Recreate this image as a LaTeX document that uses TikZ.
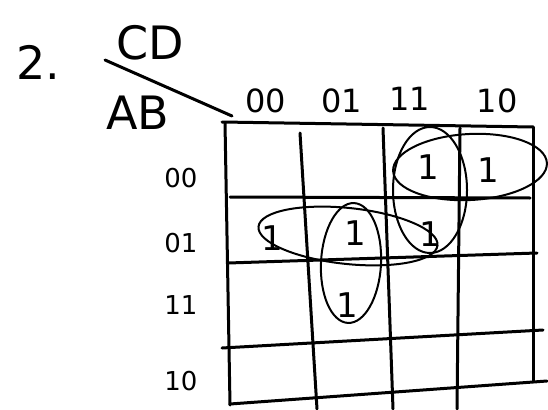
\documentclass[tikz,border=0pt]{standalone}
\usepackage{fontspec}
\setmainfont{DejaVu Sans}
\begin{document}
\begin{tikzpicture}[x=1pt,y=-1pt,
  ink/.style={line width=3pt,line cap=round,line join=round},
  loop/.style={line width=2pt},
  big/.style={font=\fontsize{46}{46}\selectfont,inner sep=0pt},
  lab/.style={font=\fontsize{32}{32}\selectfont,inner sep=0pt},
  rlab/.style={font=\fontsize{26}{26}\selectfont,inner sep=0pt},
  one/.style={font=\fontsize{34}{34}\selectfont,inner sep=0pt}]
\useasboundingbox (0,0) rectangle (548,409);
% titles
\node[big] (num) at (38,62) {2.};
\node[big] (cd) at (150,43) {CD};
\node[big] (ab) at (138,113) {AB};
\coordinate (slA) at (105,60);
\coordinate (slB) at (232,116);
\draw[ink] (slA) -- (slB);
% column labels
\node[lab] (c00) at (266,101) {00};
\node[lab] (c01) at (342,101) {01};
\node[lab] (c11) at (410,99) {11};
\node[lab] (c10) at (497,101) {10};
% row labels
\node[rlab] (r00) at (181,178) {00};
\node[rlab] (r01) at (181,243) {01};
\node[rlab] (r11) at (181,305) {11};
\node[rlab] (r10) at (181,381) {10};
% grid
\draw[ink] (222,122) -- (533,127);
\draw[ink] (230,197) -- (530,198);
\draw[ink] (228,263) -- (537,253);
\draw[ink] (222,348) -- (543,330);
\draw[ink] (230,404) -- (547,381);
\draw[ink] (225,123) -- (230,405);
\draw[ink] (300,133) -- (317,409);
\draw[ink] (383,128) -- (393,409);
\draw[ink] (460,128) -- (457,409);
\draw[ink] (533,127) -- (533,381);
% ones
\node[one] (m1) at (428,167) {1};
\node[one] (m2) at (488,170) {1};
\node[one] (m3) at (430,234) {1};
\node[one] (m4) at (355,233) {1};
\node[one] (m5) at (272,238) {1};
\node[one] (m6) at (347,305) {1};
% groupings
\draw[loop] (430,190) ellipse [x radius=37, y radius=63];
\draw[loop,rotate around={3:(470,167)}] (470,167) ellipse [x radius=77, y radius=33];
\draw[loop,rotate around={-6:(348,236)}] (348,236) ellipse [x radius=90, y radius=28];
\draw[loop,rotate around={-3:(351,263)}] (351,263) ellipse [x radius=30, y radius=60];
\end{tikzpicture}
\end{document}
